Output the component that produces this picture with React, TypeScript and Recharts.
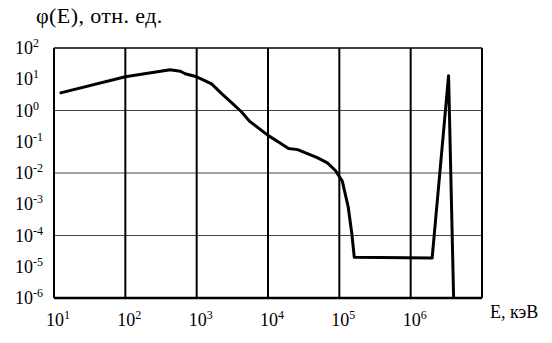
import React from 'react';
import { LineChart, Line, XAxis, YAxis, ReferenceLine } from 'recharts';

// Energy, keV
const energy = [12, 100, 425, 590, 690, 1000, 1620, 2200, 3250, 4200, 5600, 1e4, 14200, 19400, 26000, 49000, 68000, 88000, 110000, 133000, 150000, 162000, 2.0e6, 3.4e6, 4.0e6];
// phi(E), relative units
const flux = [3.6, 12, 20, 18, 15, 12, 7.1, 3.6, 1.6, 0.93, 0.44, 0.16, 0.096, 0.061, 0.056, 0.031, 0.021, 0.012, 0.0055, 8.3e-4, 1.1e-4, 2.0e-5, 1.9e-5, 13, 1e-6];

const xTicks = [1e1, 1e2, 1e3, 1e4, 1e5, 1e6];
const xExponents = ['1', '2', '3', '4', '5', '6'];
const yTicks = [1e-6, 1e-5, 1e-4, 1e-3, 1e-2, 1e-1, 1e0, 1e1, 1e2];
const yExponents = ['-6', '-5', '-4', '-3', '-2', '-1', '0', '1', '2'];
const vGrid = [1e2, 1e3, 1e4, 1e5, 1e6, 1e7];
const hGrid = [1e0, 1e-2, 1e-4];

const title = 'φ(E), отн. ед.';
const xTitle = 'E, кэВ';

const data = energy.map((e, i) => ({ e, f: flux[i] }));

const FONT = "'Liberation Serif', 'Times New Roman', serif";

const XTick = (props: any) => {
  const { x, y, payload } = props;
  const idx = xTicks.indexOf(payload.value);
  return (
    <text x={x - 8} y={y + 20} style={{ fontFamily: FONT }} fontSize={18} fill="#000" textAnchor="start">
      <tspan>10</tspan>
      <tspan dy={-7} fontSize={12}>{xExponents[idx]}</tspan>
    </text>
  );
};

const YTick = (props: any) => {
  const { y, payload } = props;
  const idx = yTicks.indexOf(payload.value);
  return (
    <text x={15} y={y + 6} style={{ fontFamily: FONT }} fontSize={18} fill="#000" textAnchor="start">
      <tspan>10</tspan>
      <tspan dy={-7} fontSize={12}>{yExponents[idx]}</tspan>
    </text>
  );
};

export default function App() {
  return (
    <div style={{ position: 'absolute', left: 0, top: 0, width: 552, height: 343, background: '#fff' }}>
      <div style={{ position: 'absolute', left: 36, top: 3, fontFamily: FONT, fontSize: 22, color: '#000', whiteSpace: 'nowrap', letterSpacing: 0.4 }}>
        {title}
      </div>
      <div style={{ position: 'absolute', left: 490, top: 302, fontFamily: FONT, fontSize: 18, color: '#000', whiteSpace: 'nowrap' }}>
        {xTitle}
      </div>
      <LineChart width={552} height={343} data={data} margin={{ top: 48, right: 70, bottom: 0, left: 0 }}>
        <XAxis
          dataKey="e"
          type="number"
          scale="log"
          domain={[10, 1e7]}
          ticks={xTicks}
          tick={<XTick />}
          tickLine={false}
          axisLine={{ stroke: '#000', strokeWidth: 2.5 }}
          height={45}
          allowDataOverflow
          interval={0}
        />
        <YAxis
          type="number"
          scale="log"
          domain={[1e-6, 1e2]}
          ticks={yTicks}
          tick={<YTick />}
          tickLine={false}
          axisLine={{ stroke: '#000', strokeWidth: 2 }}
          width={54}
          allowDataOverflow
          interval={0}
        />
        {hGrid.map((v) => (
          <ReferenceLine key={'h' + v} y={v} stroke="#444" strokeWidth={1} />
        ))}
        <ReferenceLine y={1e2} stroke="#000" strokeWidth={1.5} />
        {vGrid.map((v) => (
          <ReferenceLine key={'v' + v} x={v} stroke="#000" strokeWidth={2} />
        ))}
        <Line
          dataKey="f"
          type="linear"
          stroke="#000"
          strokeWidth={3}
          dot={false}
          isAnimationActive={false}
          strokeLinejoin="round"
        />
      </LineChart>
    </div>
  );
}
